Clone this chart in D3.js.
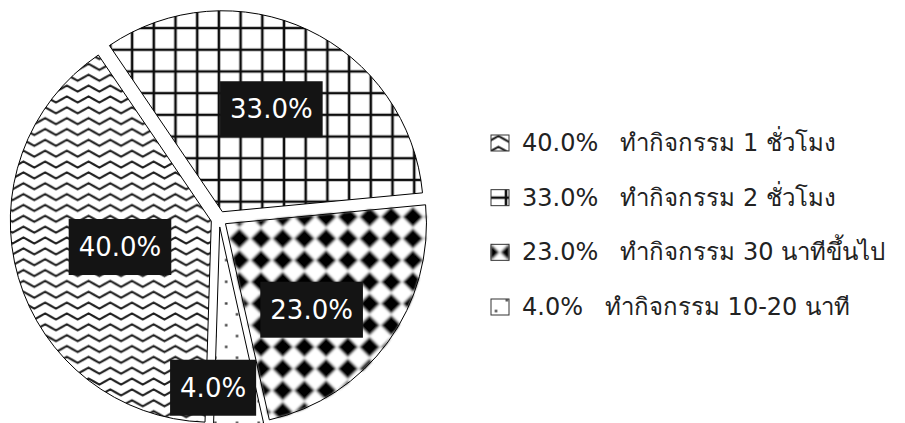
<!DOCTYPE html>
<html>
<head>
<meta charset="utf-8">
<script src="https://cdn.jsdelivr.net/npm/d3@7/dist/d3.min.js"></script>
<style>
  html, body { margin: 0; padding: 0; background: #ffffff; }
  svg { display: block; }
</style>
</head>
<body>
<svg id="chart" width="905" height="423"></svg>
<script>
// Share of students by daily activity time
const categories = [
  "ทำกิจกรรม 1 ชั่วโมง",
  "ทำกิจกรรม 2 ชั่วโมง",
  "ทำกิจกรรม 30 นาทีขึ้นไป",
  "ทำกิจกรรม 10-20 นาที"
];
const values = [40.0, 33.0, 23.0, 4.0];
const fills = ["wave", "grid", "diamond", "dots"];

// ---- layout ----
const cx = 219, cy = 219, R = 201, explode = 8;
const startDeg = 181.8;
// label anchors: angle shift from slice middle (deg) and radius as fraction of R
const labelShift = [0.4, 0.3, 8.4, 7.4];
const labelRadius = [0.512, 0.605, 0.645, 0.84];
// where each legend key samples its hatch tile
const keyShift = [[0, 12.4], [3.2, 11.6], [15.85, 14.85], [1.4, 7.4]];
// softening per hatch
const blurs = [0.6, 0.6, 1.0, 0.6];
const labelFont = "'DejaVu Sans', Verdana, sans-serif";
const legendFont = "'DejaVu Sans', Tahoma, 'Noto Sans', sans-serif";

const svg = d3.select("#chart");
const defs = svg.append("defs");
const S = 21.7; // pattern tile size

// soft edges of the hatch bitmaps
fills.forEach((f, i) => {
  defs.append("filter").attr("id", "soft-" + f)
    .attr("x", "-5%").attr("y", "-5%").attr("width", "110%").attr("height", "110%")
    .append("feGaussianBlur").attr("stdDeviation", blurs[i]);
});

function makePattern(id, ox, oy) {
  const p = defs.append("pattern").attr("id", id)
    .attr("patternUnits", "userSpaceOnUse")
    .attr("x", ox).attr("y", oy).attr("width", S).attr("height", S);
  p.append("rect").attr("width", S).attr("height", S).attr("fill", "#fff");
  return p;
}

// wavy lines: two zig-zag rows per tile
const pw = makePattern("wave", 2, 3);
[S * 0.25, S * 0.75].forEach(y0 => {
  const h = 3.1;
  pw.append("path")
    .attr("d", `M${-S/4},${y0 + h} L0,${y0} L${S/4},${y0 - h} L${S/2},${y0} L${3*S/4},${y0 + h} L${S},${y0} L${5*S/4},${y0 - h}`)
    .attr("fill", "none").attr("stroke", "#1e1e1e").attr("stroke-width", 2.1)
    .attr("stroke-linejoin", "miter");
});

// large grid
const pg = makePattern("grid", 7.35, 0.75);
pg.append("path").attr("d", `M${S/2},0V${S} M0,${S/2}H${S}`)
  .attr("stroke", "#111").attr("stroke-width", 2.6).attr("fill", "none");

// solid diamonds
const pd = makePattern("diamond", 3, 4);
const hd = S * 0.47;
pd.append("path")
  .attr("d", `M${S/2},${S/2 - hd} L${S/2 + hd},${S/2} L${S/2},${S/2 + hd} L${S/2 - hd},${S/2} Z`)
  .attr("fill", "#000");

// sparse dots
const pdot = makePattern("dots", 1, 6);
[[S * 0.25, S * 0.25], [S * 0.75, S * 0.75]].forEach(([x, y]) => {
  pdot.append("rect").attr("x", x - 1.2).attr("y", y - 1.2)
    .attr("width", 2.4).attr("height", 2.4).attr("fill", "#333");
});

// ---- pie ----
const rad = d => d * Math.PI / 180;
const pie = d3.pie().sort(null).value(d => d)
  .startAngle(rad(startDeg)).endAngle(rad(startDeg) + 2 * Math.PI);
const arcs = pie(values);
const arc = d3.arc().innerRadius(0).outerRadius(R);

const offset = d => {
  const a = (d.startAngle + d.endAngle) / 2;
  return [explode * Math.sin(a), -explode * Math.cos(a)];
};

const slices = svg.append("g").attr("transform", `translate(${cx},${cy})`)
  .selectAll("g.slice").data(arcs).join("g").attr("class", "slice")
  .attr("transform", d => { const [dx, dy] = offset(d); return `translate(${dx},${dy})`; });

slices.append("path").attr("d", arc)
  .attr("fill", (d, i) => `url(#${fills[i]})`)
  .attr("filter", (d, i) => `url(#soft-${fills[i]})`);
slices.append("path").attr("d", arc)
  .attr("fill", "none").attr("stroke", "#000").attr("stroke-width", 1);

// ---- data labels ----
const labels = svg.append("g").attr("transform", `translate(${cx},${cy})`)
  .selectAll("g.lbl").data(arcs).join("g").attr("class", "lbl")
  .attr("transform", (d, i) => {
    const a = (d.startAngle + d.endAngle) / 2 + rad(labelShift[i]);
    const r = R * labelRadius[i];
    return `translate(${r * Math.sin(a)},${-r * Math.cos(a)})`;
  });
labels.append("rect").attr("fill", "#141414");
labels.append("text")
  .attr("text-anchor", "middle").attr("dominant-baseline", "central")
  .attr("font-family", labelFont).attr("font-size", 26).attr("fill", "#fff")
  .text(d => d.data.toFixed(1) + "%");
labels.each(function () {
  const g = d3.select(this);
  const w = g.select("text").node().getComputedTextLength() + 20;
  const h = 56;
  g.select("rect").attr("x", -w / 2).attr("y", -h / 2).attr("width", w).attr("height", h);
});

// ---- legend ----
const rowY = d3.scalePoint().domain(d3.range(values.length)).range([143, 307]);
const legend = svg.append("g");
const items = legend.selectAll("g.item").data(values).join("g").attr("class", "item")
  .attr("transform", (d, i) => `translate(491,${rowY(i)})`);
items.append("g")
  .attr("transform", (d, i) => `translate(${-keyShift[i][0]},${-keyShift[i][1]})`)
  .append("rect")
  .attr("x", (d, i) => keyShift[i][0]).attr("y", (d, i) => keyShift[i][1] - 8)
  .attr("width", 18).attr("height", 16)
  .attr("fill", (d, i) => `url(#${fills[i]})`)
  .attr("filter", (d, i) => `url(#soft-${fills[i]})`);
items.append("rect").attr("x", 0).attr("y", -8).attr("width", 18).attr("height", 16)
  .attr("fill", "none").attr("stroke", "#333").attr("stroke-width", 1);
const lt = items.append("text")
  .attr("x", 31).attr("dominant-baseline", "central")
  .attr("font-family", legendFont).attr("font-size", 24).attr("fill", "#222");
lt.append("tspan").text(d => d.toFixed(1) + "%");
lt.append("tspan").attr("dx", 22).text((d, i) => categories[i]);
</script>
</body>
</html>
